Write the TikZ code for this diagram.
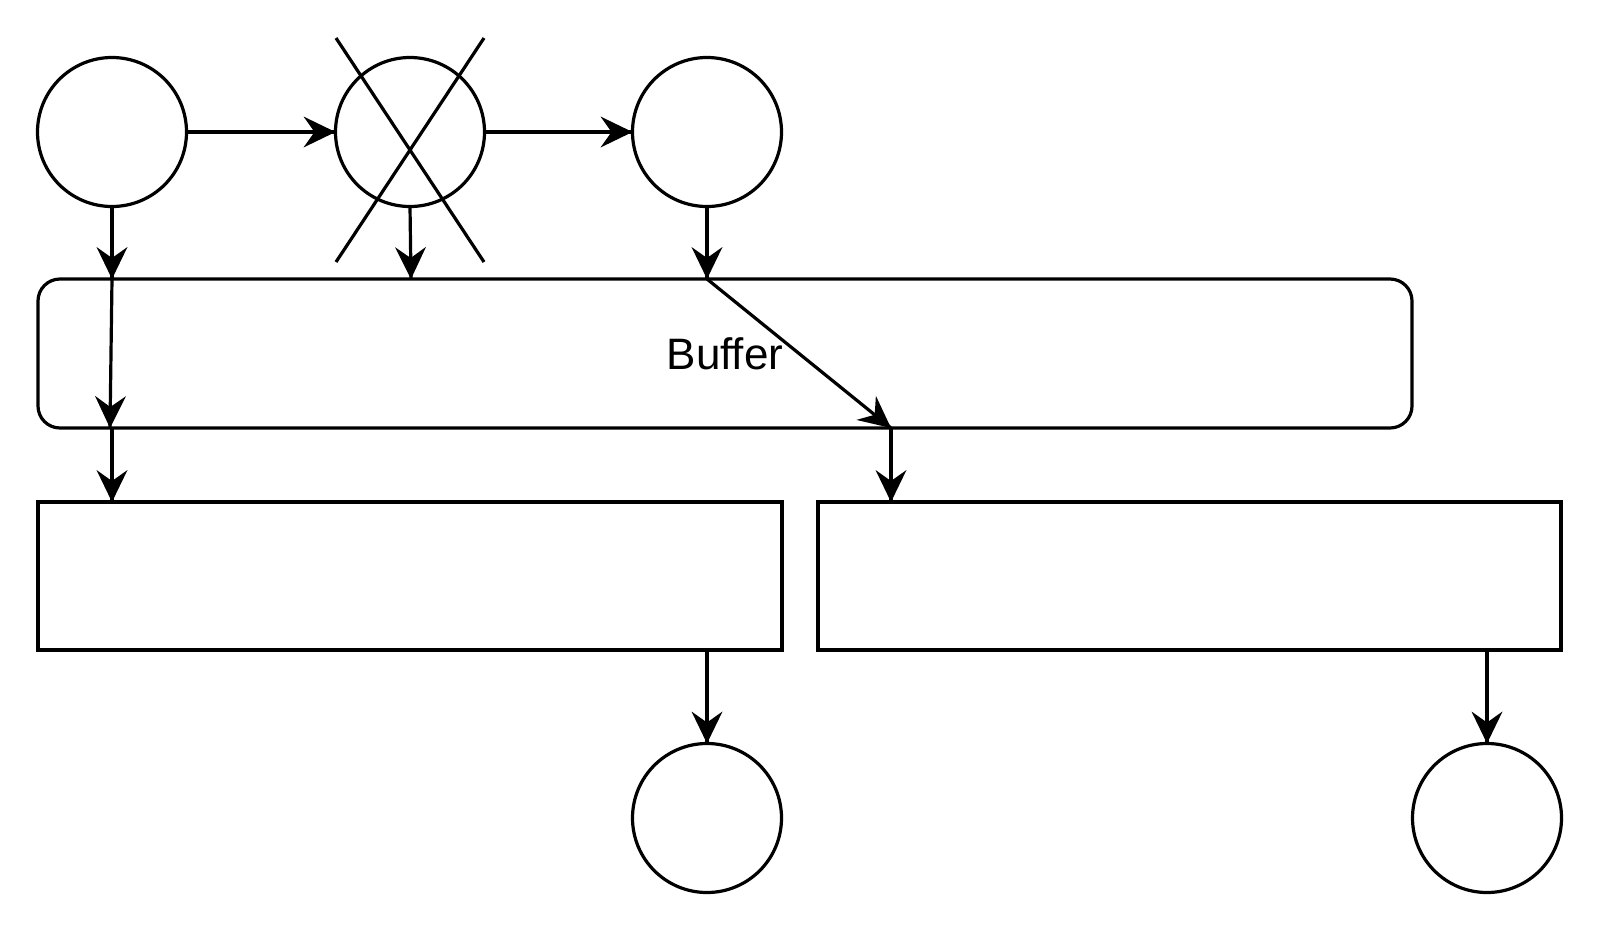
\documentclass[tikz,border=0pt]{standalone}
\usepackage{fontspec}
\setmainfont{Liberation Sans}
\usetikzlibrary{decorations.markings,calc}
\begin{document}
\begin{tikzpicture}[x=1pt,y=1pt,
  every node/.style={draw=black,line width=3.2pt,inner sep=0pt,outer sep=0pt},
  circ/.style={circle,minimum size=149pt},
  boxr/.style={rectangle,minimum height=148pt},
  headtip/.style={postaction={decorate,decoration={markings,
      mark=at position 1 with {\fill[black] (0pt,0pt) -- (-32pt,15.5pt) -- (-21pt,0pt) -- (-32pt,-15.5pt) -- cycle;}}}},
  conn/.style={draw=black,line width=3.2pt,headtip},
  crossline/.style={draw=black,line width=3.2pt}]
\useasboundingbox (0,0) rectangle (1600,-935);
\node[circ] (c1) at (112,-132) {};
\node[circ] (c2) at (410,-132) {};
\node[circ] (c3) at (707,-132) {};
\node[rectangle,rounded corners=22pt,minimum width=1374pt,minimum height=149pt,font=\fontsize{44}{50}\selectfont] (buffer) at (725,-353.5) {Buffer};
\node[boxr,minimum width=744pt] (box1) at (410,-576) {};
\node[boxr,minimum width=743pt] (box2) at (1189.5,-576) {};
\node[circ] (c4) at (707,-818) {};
\node[circ] (c5) at (1487,-818) {};
\coordinate (bd) at (891,-428);
% cross over c2
\draw[crossline] (336,-38) -- (484,-262);
\draw[crossline] (484,-38) -- (336,-262);
% connectors
\draw[conn] (c1.east) -- (c2.west);
\draw[conn] (c2.east) -- (c3.west);
\draw[conn] (c1.south) -- (c1.south |- buffer.north);
\draw[conn] (c2.south) -- ($(c2.south |- buffer.north)+(1,0)$);
\draw[conn] (c3.south) -- (c3.south |- buffer.north);
\draw[conn] (c1.south |- buffer.north) -- ($(c1.south |- buffer.south)+(-2,0)$);
\draw[conn] (c1.south |- buffer.south) -- (c1.south |- box1.north);
\draw[conn] (c3.south |- buffer.north) -- (bd);
\draw[conn] (bd) -- (bd |- box2.north);
\draw[conn] (c4.north |- box1.south) -- (c4.north);
\draw[conn] (c5.north |- box2.south) -- (c5.north);
\end{tikzpicture}
\end{document}
